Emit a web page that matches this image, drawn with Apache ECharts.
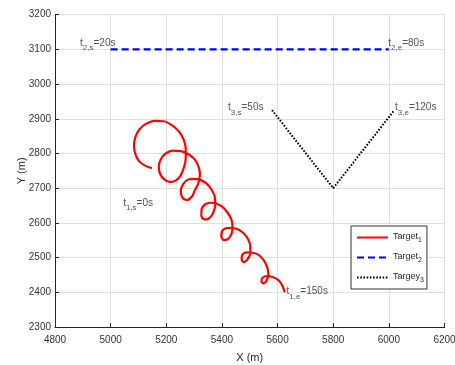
<!DOCTYPE html>
<html>
<head>
<meta charset="utf-8">
<script src="https://cdn.jsdelivr.net/npm/echarts@6/dist/echarts.min.js"></script>
<style>
  html, body { margin: 0; padding: 0; background: #fff; }
  #chart { width: 455px; height: 365px; }
</style>
</head>
<body>
<div id="chart"></div>
<script>
// Target 1: looping trajectory (X, Y in metres), t = 0 s ... 150 s
const target1X = [5148,5124,5102,5089,5084,5089,5104,5128,5158,5190,
  5220,5246,5263,5270,5270,5263,5250,5232,5212,5192,
  5178,5173,5180,5198,5224,5252,5280,5302,5316,5321,
  5315,5302,5292,5274,5257,5252,5260,5276,5298,5322,
  5344,5362,5374,5376,5368,5352,5336,5326,5327,5339,
  5358,5380,5401,5420,5434,5438,5434,5420,5406,5398,
  5401,5416,5436,5458,5478,5494,5502,5501,5490,5478,
  5471,5474,5490,5510,5532,5550,5562,5567,5562,5550,
  5542,5546,5562,5582,5602,5616,5626];
const target1Y = [2758,2765,2778,2798,2823,2848,2870,2886,2894,2893,
  2882,2863,2839,2812,2786,2759,2735,2721,2718,2726,
  2741,2762,2783,2800,2808,2807,2798,2783,2762,2738,
  2714,2693,2676,2666,2674,2693,2711,2724,2727,2724,
  2714,2697,2676,2652,2628,2612,2610,2622,2640,2653,
  2658,2656,2647,2630,2610,2587,2567,2553,2551,2562,
  2577,2585,2586,2581,2570,2553,2532,2510,2493,2487,
  2495,2509,2515,2514,2508,2493,2474,2453,2436,2426,
  2432,2442,2447,2444,2436,2421,2400];

// Target 2: straight constant-Y path, t = 20 s ... 80 s
const target2X = [5000, 6000];
const target2Y = [3100, 3100];

// Target 3: V-shaped path, t = 50 s ... 120 s
const target3X = [5580, 5800, 6020];
const target3Y = [2925, 2700, 2925];

// Start / end time annotations: anchor X, anchor Y, subscript, suffix
const noteX = [5045, 5632, 4890, 5998, 5422, 6022];
const noteY = [2655, 2400, 3115, 3115, 2930, 2930];
const noteSub = ['1,s', '1,e', '2,s', '2,e', '3,s', '3,e'];
const noteText = ['=0s', '=150s', '=20s', '=80s', '=50s', '=120s'];

// Legend entries
const seriesNames = ['Target1', 'Target2', 'Targey3'];

// Axis ranges: min, max, step
const xRange = [4800, 6200, 200];
const yRange = [2300, 3200, 100];

const pairs = (xs, ys) => xs.map((x, i) => [x, ys[i]]);
const FONT = 'Liberation Sans, Arial, Helvetica, sans-serif';
const AXIS_COLOR = '#262626';

const noteData = noteX.map((x, i) => [x, noteY[i], '{m|t}{s|' + noteSub[i] + '}{m|' + noteText[i] + '}']);

const chart = echarts.init(document.getElementById('chart'), null, { renderer: 'canvas' });

const axisCommon = {
  type: 'value',
  axisLine: { show: true, lineStyle: { color: AXIS_COLOR, width: 1 } },
  axisTick: { show: true, inside: true, length: 4, lineStyle: { color: AXIS_COLOR, width: 1 } },
  axisLabel: { color: '#333333', fontSize: 10, fontFamily: FONT, formatter: v => String(v) },
  splitLine: { show: true, lineStyle: { color: '#dfdfdf', width: 1 } },
  nameLocation: 'middle',
  nameTextStyle: { color: AXIS_COLOR, fontSize: 11, fontFamily: FONT }
};

chart.setOption({
  animation: false,
  backgroundColor: '#ffffff',
  grid: { left: 55, right: 10.5, top: 14.7, bottom: 38, containLabel: false, outerBoundsMode: 'none' },
  xAxis: Object.assign({}, axisCommon, {
    min: xRange[0], max: xRange[1], interval: xRange[2],
    name: 'X (m)', nameGap: 25,
    axisLabel: Object.assign({}, axisCommon.axisLabel, { margin: 8 })
  }),
  yAxis: Object.assign({}, axisCommon, {
    min: yRange[0], max: yRange[1], interval: yRange[2],
    name: 'Y (m)', nameGap: 28, nameMoveOverlap: false,
    axisLabel: Object.assign({}, axisCommon.axisLabel, { margin: 4 })
  }),
  legend: {
    data: seriesNames,
    orient: 'vertical',
    left: 351,
    top: 226,
    padding: [6, 3, 5, 5],
    itemWidth: 31,
    itemHeight: 12,
    itemGap: 8,
    backgroundColor: '#ffffff',
    borderColor: '#333333',
    borderWidth: 1,
    borderRadius: 0,
    selectedMode: false,
    itemStyle: { color: 'rgba(0,0,0,0)', borderWidth: 0, opacity: 0 },
    formatter: name => '{a|' + name.slice(0, -1) + '}{b|' + name.slice(-1) + '}',
    textStyle: {
      color: AXIS_COLOR,
      fontFamily: FONT,
      rich: {
        a: { fontSize: 9, lineHeight: 11, verticalAlign: 'top', fontFamily: FONT, color: AXIS_COLOR },
        b: { fontSize: 7, lineHeight: 9, padding: [5, 0, 0, 0], verticalAlign: 'top', fontFamily: FONT, color: AXIS_COLOR }
      }
    }
  },
  series: [
    {
      name: seriesNames[0],
      type: 'line',
      data: pairs(target1X, target1Y),
      symbol: 'none',
      smooth: 0.35,
      lineStyle: { color: '#ff0000', width: 2.2, type: 'solid' },
      itemStyle: { color: '#ff0000' },
      emphasis: { disabled: true },
      z: 3
    },
    {
      name: seriesNames[1],
      type: 'line',
      data: pairs(target2X, target2Y),
      symbol: 'none',
      lineStyle: { color: '#0000ff', width: 2.2, type: [7, 4] },
      itemStyle: { color: '#0000ff' },
      emphasis: { disabled: true },
      z: 3
    },
    {
      name: seriesNames[2],
      type: 'line',
      data: pairs(target3X, target3Y),
      symbol: 'none',
      lineStyle: { color: '#000000', width: 2, type: [1.6, 1.6] },
      itemStyle: { color: '#000000' },
      emphasis: { disabled: true },
      z: 3
    },
    {
      name: 'notes',
      type: 'scatter',
      data: noteData,
      symbolSize: 0,
      silent: true,
      z: 4,
      label: {
        show: true,
        position: 'right',
        distance: 0,
        formatter: p => p.data[2],
        rich: {
          m: { fontSize: 10, lineHeight: 12, verticalAlign: 'top', fontFamily: FONT, color: AXIS_COLOR },
          s: { fontSize: 8, lineHeight: 10, padding: [6, 0, 0, 0], verticalAlign: 'top', fontFamily: FONT, color: AXIS_COLOR }
        }
      }
    }
  ]
});
</script>
</body>
</html>
